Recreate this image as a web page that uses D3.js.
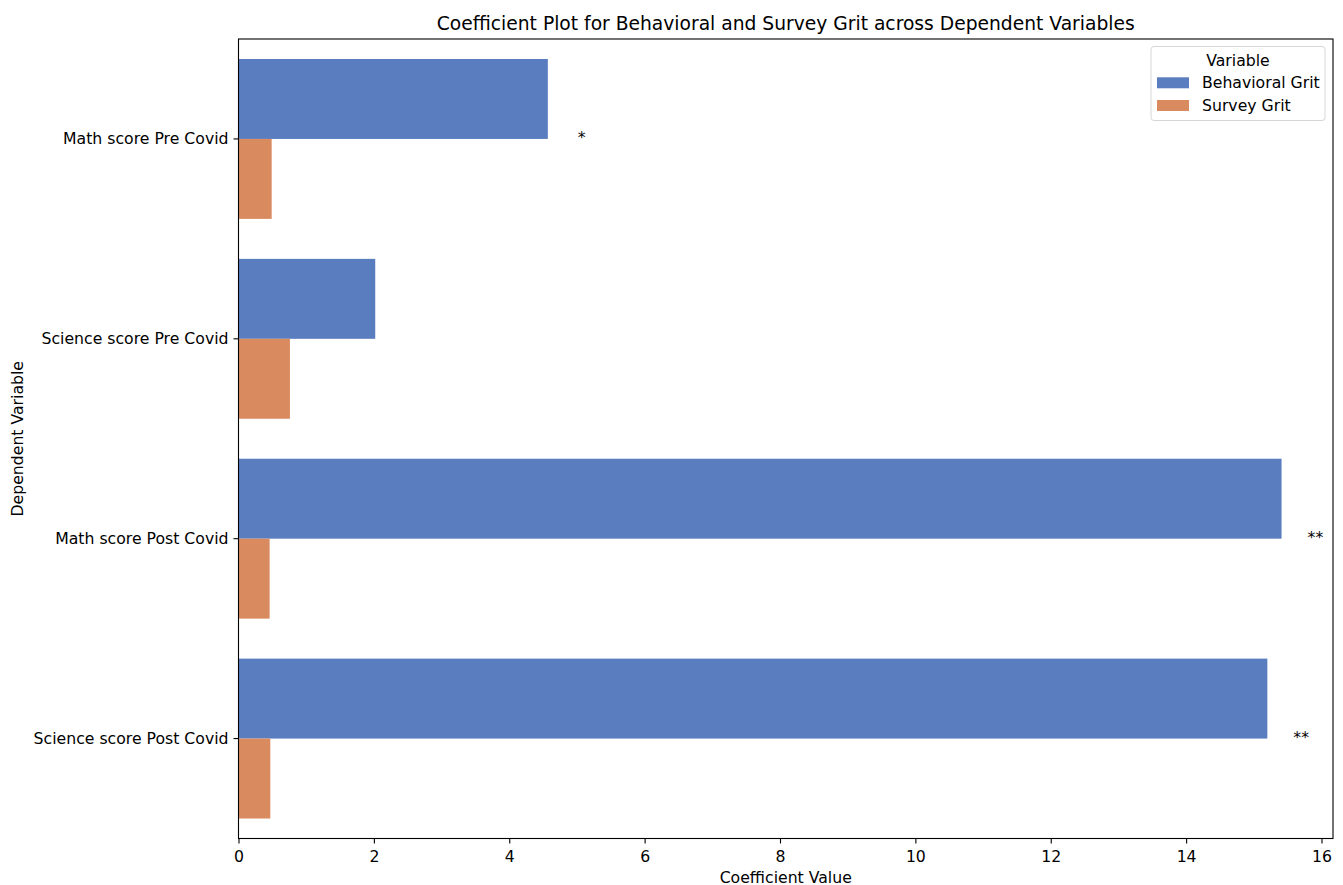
<!DOCTYPE html>
<html>
<head>
<meta charset="utf-8">
<script src="https://cdn.jsdelivr.net/npm/d3@7"></script>
<style>
  html, body { margin: 0; padding: 0; background: #fff; }
  svg { display: block; font-family: "DejaVu Sans", sans-serif; }
</style>
</head>
<body>
<svg id="chart" width="1343" height="885"></svg>
<script>
const categories = ["Math score Pre Covid", "Science score Pre Covid", "Math score Post Covid", "Science score Post Covid"];
const seriesNames = ["Behavioral Grit", "Survey Grit"];
const behavioralGrit = [4.57, 2.02, 15.41, 15.20];
const surveyGrit = [0.49, 0.76, 0.46, 0.47];
const significance = ["*", "", "**", "**"];
const xTicks = [0, 2, 4, 6, 8, 10, 12, 14, 16];
const colors = ["#597dbf", "#d98b5f"];

(function () {
const svg = d3.select("#chart");
const plotL = 238.5, plotR = 1333, plotT = 39, plotB = 838.5;
const fs = 15.7;

const x = d3.scaleLinear().domain([0, 16.17]).range([plotL, plotR]);
const y = d3.scaleBand().domain(categories).range([plotT, plotB]).padding(0);
const hue = d3.scaleBand().domain(seriesNames)
  .range([y.bandwidth() * 0.1, y.bandwidth() * 0.9]).padding(0);

const seriesValues = [behavioralGrit, surveyGrit];
const rows = [];
seriesNames.forEach((s, si) => {
  categories.forEach((c, ci) => rows.push({ s, si, c, v: seriesValues[si][ci] }));
});

svg.append("g").selectAll("rect").data(rows).join("rect")
  .attr("x", d => x(0))
  .attr("y", d => y(d.c) + hue(d.s))
  .attr("width", d => x(d.v) - x(0))
  .attr("height", hue.bandwidth())
  .attr("fill", d => colors[d.si]);

// significance stars
svg.append("g").selectAll("text").data(categories).join("text")
  .attr("x", (c, i) => x(behavioralGrit[i] + 0.5))
  .attr("y", c => y(c) + y.bandwidth() / 2 + 4.5)
  .attr("text-anchor", "middle")
  .attr("font-size", fs)
  .attr("fill", "#000")
  .text((c, i) => significance[i]);

// axes
const xAxis = svg.append("g").attr("transform", `translate(0,${plotB})`)
  .call(d3.axisBottom(x).tickValues(xTicks).tickSize(5).tickPadding(7.5).tickFormat(d3.format("d")));
const yAxis = svg.append("g").attr("transform", `translate(${plotL},0)`)
  .call(d3.axisLeft(y).tickSize(5).tickPadding(5));
[xAxis, yAxis].forEach(g => {
  g.select(".domain").remove();
  g.selectAll(".tick line").attr("stroke", "#000").attr("stroke-width", 1.1);
  g.selectAll(".tick text").attr("font-size", fs).attr("fill", "#000")
    .attr("font-family", "DejaVu Sans, sans-serif");
});

// spines
svg.append("rect")
  .attr("x", plotL).attr("y", plotT)
  .attr("width", plotR - plotL).attr("height", plotB - plotT)
  .attr("fill", "none").attr("stroke", "#000").attr("stroke-width", 1.1);

// title and labels
svg.append("text").attr("x", (plotL + plotR) / 2).attr("y", 29.5)
  .attr("text-anchor", "middle").attr("font-size", 18.7).attr("fill", "#000")
  .text("Coefficient Plot for Behavioral and Survey Grit across Dependent Variables");
svg.append("text").attr("x", (plotL + plotR) / 2).attr("y", 882.5)
  .attr("text-anchor", "middle").attr("font-size", fs).attr("fill", "#000")
  .text("Coefficient Value");
svg.append("text")
  .attr("transform", `translate(23,${(plotT + plotB) / 2}) rotate(-90)`)
  .attr("text-anchor", "middle").attr("font-size", fs).attr("fill", "#000")
  .text("Dependent Variable");

// legend
const lg = svg.append("g");
lg.append("rect").attr("x", 1151).attr("y", 46.5).attr("width", 174).attr("height", 74)
  .attr("rx", 3).attr("fill", "#fff").attr("fill-opacity", 0.8)
  .attr("stroke", "#d6d6d6").attr("stroke-width", 1);
lg.append("text").attr("x", 1238).attr("y", 66).attr("text-anchor", "middle")
  .attr("font-size", fs).attr("fill", "#000").text("Variable");
seriesNames.forEach((s, i) => {
  lg.append("rect").attr("x", 1157).attr("y", 77.3 + i * 22.7).attr("width", 32).attr("height", 11)
    .attr("fill", colors[i]);
  lg.append("text").attr("x", 1202).attr("y", 88 + i * 22.8)
    .attr("font-size", fs).attr("fill", "#000").text(s);
});
})();
</script>
</body>
</html>
